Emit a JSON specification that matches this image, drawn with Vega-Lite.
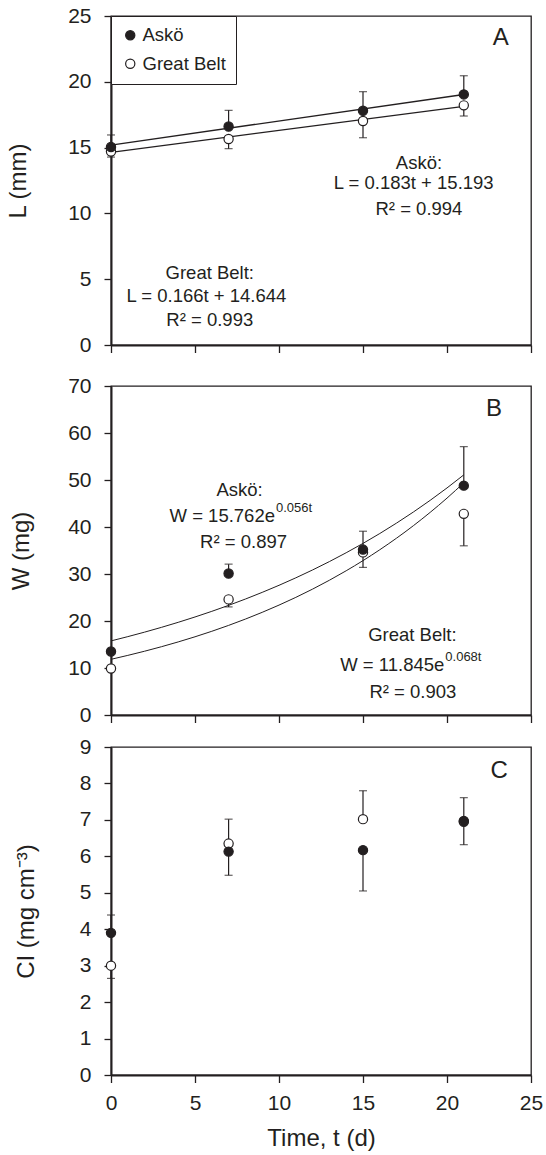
{
  "$schema": "https://vega.github.io/schema/vega-lite/v6.json",
  "padding": {"left": 5, "top": 4, "right": 2, "bottom": 2},
  "config": {
    "font": "Liberation Sans",
    "view": {"stroke": "#231f20", "strokeWidth": 1.3},
    "axis": {
      "domainColor": "#231f20", "domainWidth": 2,
      "tickColor": "#231f20", "tickWidth": 1.3, "tickSize": 7,
      "grid": false, "labelFlush": false, "labelOverlap": false,
      "labelFont": "Liberation Sans", "labelFontSize": 21, "labelColor": "#231f20", "labelPadding": 13,
      "titleFont": "Liberation Sans", "titleFontSize": 24, "titleFontWeight": "normal", "titleColor": "#231f20"
    },
    "axisX": {"labelPadding": 10, "tickSize": 7.5, "titlePadding": 13}
  },
  "datasets": {
    "length_fit": [
      {"site": "Askö", "t": 0, "L": 15.193},
      {"site": "Askö", "t": 21, "L": 19.036},
      {"site": "Great Belt", "t": 0, "L": 14.644},
      {"site": "Great Belt", "t": 21, "L": 18.13}
    ],
    "length": [
      {"site": "Great Belt", "t": 0, "L": 14.7, "bar_end": 14.28},
      {"site": "Great Belt", "t": 7, "L": 15.65, "bar_end": 14.92},
      {"site": "Great Belt", "t": 15, "L": 17.02, "bar_end": 15.75},
      {"site": "Great Belt", "t": 21, "L": 18.21, "bar_end": 17.4},
      {"site": "Askö", "t": 0, "L": 15.05, "bar_end": 15.96},
      {"site": "Askö", "t": 7, "L": 16.6, "bar_end": 17.83},
      {"site": "Askö", "t": 15, "L": 17.8, "bar_end": 19.25},
      {"site": "Askö", "t": 21, "L": 19.04, "bar_end": 20.46}
    ],
    "length_notes": [
      {"t": 18.33, "L": 13.8, "label": "Askö:"},
      {"t": 18.02, "L": 12.28, "label": "L = 0.183t + 15.193"},
      {"t": 18.33, "L": 10.3, "label": "R² = 0.994"},
      {"t": 5.88, "L": 5.44, "label": "Great Belt:"},
      {"t": 5.68, "L": 3.75, "label": "L = 0.166t + 14.644"},
      {"t": 5.88, "L": 1.9, "label": "R² = 0.993"},
      {"t": 23.2, "L": 23.3, "label": "A"}
    ],
    "mass_fit": [
      {"site": "Askö", "t": 0, "W": 15.762},
      {"site": "Askö", "t": 2, "W": 17.63},
      {"site": "Askö", "t": 4, "W": 19.719},
      {"site": "Askö", "t": 6, "W": 22.056},
      {"site": "Askö", "t": 8, "W": 24.67},
      {"site": "Askö", "t": 10, "W": 27.594},
      {"site": "Askö", "t": 12, "W": 30.864},
      {"site": "Askö", "t": 14, "W": 34.522},
      {"site": "Askö", "t": 16, "W": 38.614},
      {"site": "Askö", "t": 18, "W": 43.19},
      {"site": "Askö", "t": 20, "W": 48.308},
      {"site": "Askö", "t": 21, "W": 51.091},
      {"site": "Great Belt", "t": 0, "W": 11.845},
      {"site": "Great Belt", "t": 2, "W": 13.571},
      {"site": "Great Belt", "t": 4, "W": 15.547},
      {"site": "Great Belt", "t": 6, "W": 17.812},
      {"site": "Great Belt", "t": 8, "W": 20.408},
      {"site": "Great Belt", "t": 10, "W": 23.381},
      {"site": "Great Belt", "t": 12, "W": 26.787},
      {"site": "Great Belt", "t": 14, "W": 30.689},
      {"site": "Great Belt", "t": 16, "W": 35.16},
      {"site": "Great Belt", "t": 18, "W": 40.282},
      {"site": "Great Belt", "t": 20, "W": 46.15},
      {"site": "Great Belt", "t": 21, "W": 49.398}
    ],
    "mass": [
      {"site": "Great Belt", "t": 0, "W": 9.9, "bar_end": null},
      {"site": "Great Belt", "t": 7, "W": 24.6, "bar_end": 23.0},
      {"site": "Great Belt", "t": 15, "W": 34.6, "bar_end": 31.4},
      {"site": "Great Belt", "t": 21, "W": 42.8, "bar_end": 36.0},
      {"site": "Askö", "t": 0, "W": 13.5, "bar_end": null},
      {"site": "Askö", "t": 7, "W": 30.1, "bar_end": 32.1},
      {"site": "Askö", "t": 15, "W": 35.2, "bar_end": 39.1},
      {"site": "Askö", "t": 21, "W": 48.8, "bar_end": 57.1}
    ],
    "mass_notes": [
      {"t": 7.65, "W": 47.9, "label": "Askö:"},
      {"t": 7.89, "W": 36.9, "label": "R² = 0.897"},
      {"t": 17.94, "W": 17.0, "label": "Great Belt:"},
      {"t": 17.97, "W": 4.96, "label": "R² = 0.903"},
      {"t": 22.8, "W": 65.1, "label": "B"}
    ],
    "mass_equations": [
      {"t": 9.76, "W": 42.3, "base": "W = 15.762e", "exponent": "0.056t"},
      {"t": 19.84, "W": 10.6, "base": "W = 11.845e", "exponent": "0.068t"}
    ],
    "ci": [
      {"site": "Great Belt", "t": 0, "CI": 3.0, "bar_end": 2.65},
      {"site": "Great Belt", "t": 7, "CI": 6.35, "bar_end": 7.02},
      {"site": "Great Belt", "t": 15, "CI": 7.02, "bar_end": 7.8},
      {"site": "Great Belt", "t": 21, "CI": 6.95, "bar_end": 6.32},
      {"site": "Askö", "t": 0, "CI": 3.9, "bar_end": 4.39},
      {"site": "Askö", "t": 7, "CI": 6.13, "bar_end": 5.48},
      {"site": "Askö", "t": 15, "CI": 6.17, "bar_end": 5.05},
      {"site": "Askö", "t": 21, "CI": 6.97, "bar_end": 7.61}
    ],
    "ci_notes": [
      {"t": 23.1, "CI": 8.35, "label": "C"}
    ]
  },
  "resolve": {"scale": {"fill": "independent"}, "legend": {"fill": "independent"}},
  "spacing": 18,
  "vconcat": [
    {
      "width": 420,
      "height": 329,
      "layer": [
        {
          "data": {"name": "length_fit"},
          "mark": {"type": "line", "color": "#231f20", "strokeWidth": 1.3},
          "encoding": {
            "x": {"field": "t", "type": "quantitative", "scale": {"domain": [0, 25], "nice": false},
                  "axis": {"values": [0, 5, 10, 15, 20, 25], "tickCount": 12, "labels": false, "title": null}},
            "y": {"field": "L", "type": "quantitative", "scale": {"domain": [0, 25], "nice": false},
                  "axis": {"values": [0, 5, 10, 15, 20, 25], "tickCount": 12, "title": "L (mm)", "titlePadding": 37}},
            "detail": {"field": "site"}
          }
        },
        {
          "data": {"name": "length"},
          "mark": {"type": "rule", "color": "#231f20", "strokeWidth": 1.2},
          "encoding": {
            "x": {"field": "t", "type": "quantitative"},
            "y": {"field": "L", "type": "quantitative"},
            "y2": {"field": "bar_end"}
          }
        },
        {
          "data": {"name": "length"},
          "mark": {"type": "tick", "orient": "horizontal", "size": 8, "thickness": 1.2, "color": "#231f20"},
          "encoding": {
            "x": {"field": "t", "type": "quantitative"},
            "y": {"field": "bar_end", "type": "quantitative"}
          }
        },
        {
          "data": {"name": "length"},
          "mark": {"type": "circle", "stroke": "#231f20", "strokeWidth": 1.2, "size": 85, "opacity": 1},
          "encoding": {
            "x": {"field": "t", "type": "quantitative"},
            "y": {"field": "L", "type": "quantitative"},
            "fill": {
              "field": "site", "type": "nominal",
              "scale": {"domain": ["Askö", "Great Belt"], "range": ["#231f20", "white"]},
              "legend": {
                "title": null, "orient": "top-left", "offset": 0,
                "strokeColor": "#231f20", "fillColor": "white",
                "padding": 10, "rowPadding": 9.5, "labelOffset": 3,
                "labelFont": "Liberation Sans", "labelFontSize": 18.5, "labelColor": "#231f20",
                "symbolType": "circle", "symbolSize": 85,
                "symbolStrokeColor": "#231f20", "symbolStrokeWidth": 1.2
              }
            }
          }
        },
        {
          "data": {"name": "length_notes"},
          "mark": {"type": "text", "color": "#231f20", "align": "center", "baseline": "middle"},
          "encoding": {
            "x": {"field": "t", "type": "quantitative"},
            "y": {"field": "L", "type": "quantitative"},
            "text": {"field": "label"},
            "size": {"condition": {"test": "datum.label === 'A'", "value": 24}, "value": 18.5}
          }
        }
      ]
    },
    {
      "spacing": 9,
      "resolve": {"scale": {"fill": "independent"}, "legend": {"fill": "independent"}},
      "vconcat": [
        {
          "width": 420,
          "height": 329,
          "layer": [
            {
              "data": {"name": "mass_fit"},
              "mark": {"type": "line", "color": "#231f20", "strokeWidth": 1, "interpolate": "monotone"},
              "encoding": {
                "x": {"field": "t", "type": "quantitative", "scale": {"domain": [0, 25], "nice": false},
                      "axis": {"values": [0, 5, 10, 15, 20, 25], "tickCount": 12, "labels": false, "title": null}},
                "y": {"field": "W", "type": "quantitative", "scale": {"domain": [0, 70], "nice": false},
                      "axis": {"values": [0, 10, 20, 30, 40, 50, 60, 70], "tickCount": 12, "title": "W (mg)", "titlePadding": 34}},
                "detail": {"field": "site"}
              }
            },
            {
              "data": {"name": "mass"},
              "transform": [{"filter": "datum.bar_end != null"}],
              "mark": {"type": "rule", "color": "#231f20", "strokeWidth": 1.2},
              "encoding": {
                "x": {"field": "t", "type": "quantitative"},
                "y": {"field": "W", "type": "quantitative"},
                "y2": {"field": "bar_end"}
              }
            },
            {
              "data": {"name": "mass"},
              "transform": [{"filter": "datum.bar_end != null"}],
              "mark": {"type": "tick", "orient": "horizontal", "size": 8, "thickness": 1.2, "color": "#231f20"},
              "encoding": {
                "x": {"field": "t", "type": "quantitative"},
                "y": {"field": "bar_end", "type": "quantitative"}
              }
            },
            {
              "data": {"name": "mass"},
              "mark": {"type": "circle", "stroke": "#231f20", "strokeWidth": 1.2, "size": 85, "opacity": 1},
              "encoding": {
                "x": {"field": "t", "type": "quantitative"},
                "y": {"field": "W", "type": "quantitative"},
                "fill": {
                  "field": "site", "type": "nominal",
                  "scale": {"domain": ["Askö", "Great Belt"], "range": ["#231f20", "white"]},
                  "legend": null
                }
              }
            },
            {
              "data": {"name": "mass_notes"},
              "mark": {"type": "text", "color": "#231f20", "align": "center", "baseline": "middle"},
              "encoding": {
                "x": {"field": "t", "type": "quantitative"},
                "y": {"field": "W", "type": "quantitative"},
                "text": {"field": "label"},
                "size": {"condition": {"test": "datum.label === 'B'", "value": 24}, "value": 18.5}
              }
            },
            {
              "data": {"name": "mass_equations"},
              "mark": {"type": "text", "fontSize": 18.5, "color": "#231f20", "align": "right", "baseline": "middle"},
              "encoding": {
                "x": {"field": "t", "type": "quantitative"},
                "y": {"field": "W", "type": "quantitative"},
                "text": {"field": "base"}
              }
            },
            {
              "data": {"name": "mass_equations"},
              "mark": {"type": "text", "fontSize": 13, "color": "#231f20", "align": "left", "baseline": "middle", "dx": 1, "dy": -8},
              "encoding": {
                "x": {"field": "t", "type": "quantitative"},
                "y": {"field": "W", "type": "quantitative"},
                "text": {"field": "exponent"}
              }
            }
          ]
        },
        {
          "width": 420,
          "height": 328,
          "layer": [
            {
              "data": {"name": "ci"},
              "mark": {"type": "rule", "color": "#231f20", "strokeWidth": 1.2},
              "encoding": {
                "x": {"field": "t", "type": "quantitative", "scale": {"domain": [0, 25], "nice": false},
                      "axis": {"values": [0, 5, 10, 15, 20, 25], "tickCount": 12, "title": "Time, t (d)"}},
                "y": {"field": "CI", "type": "quantitative", "scale": {"domain": [0, 9], "nice": false},
                      "axis": {"values": [0, 1, 2, 3, 4, 5, 6, 7, 8, 9], "tickCount": 12, "title": "CI (mg cm⁻³)", "titlePadding": 41}},
                "y2": {"field": "bar_end"}
              }
            },
            {
              "data": {"name": "ci"},
              "mark": {"type": "tick", "orient": "horizontal", "size": 8, "thickness": 1.2, "color": "#231f20"},
              "encoding": {
                "x": {"field": "t", "type": "quantitative"},
                "y": {"field": "bar_end", "type": "quantitative"}
              }
            },
            {
              "data": {"name": "ci"},
              "mark": {"type": "circle", "stroke": "#231f20", "strokeWidth": 1.2, "size": 85, "opacity": 1},
              "encoding": {
                "x": {"field": "t", "type": "quantitative"},
                "y": {"field": "CI", "type": "quantitative"},
                "fill": {
                  "field": "site", "type": "nominal",
                  "scale": {"domain": ["Askö", "Great Belt"], "range": ["#231f20", "white"]},
                  "legend": null
                }
              }
            },
            {
              "data": {"name": "ci_notes"},
              "mark": {"type": "text", "fontSize": 24, "color": "#231f20", "align": "center", "baseline": "middle"},
              "encoding": {
                "x": {"field": "t", "type": "quantitative"},
                "y": {"field": "CI", "type": "quantitative"},
                "text": {"field": "label"}
              }
            }
          ]
        }
      ]
    }
  ]
}
